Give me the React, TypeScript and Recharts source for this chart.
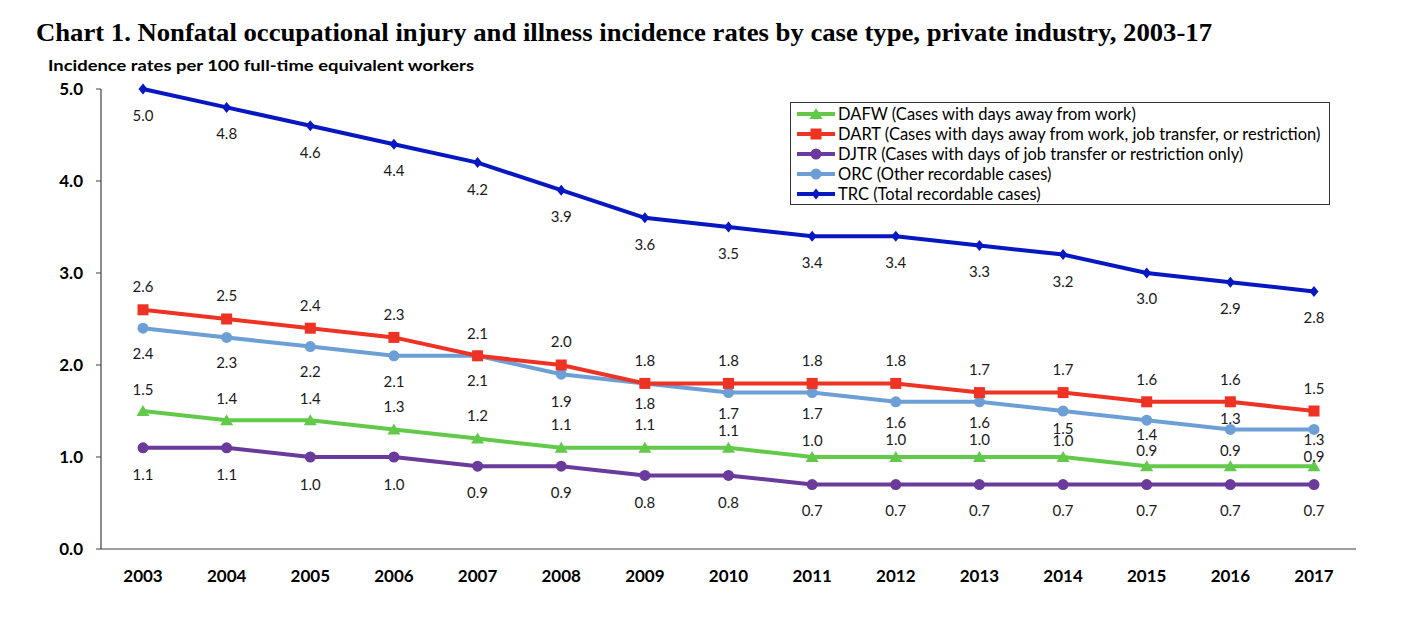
import React from 'react';
import { LineChart, Line, XAxis, YAxis } from 'recharts';

const years = ['2003','2004','2005','2006','2007','2008','2009','2010','2011','2012','2013','2014','2015','2016','2017'];
const dafw = [1.5,1.4,1.4,1.3,1.2,1.1,1.1,1.1,1.0,1.0,1.0,1.0,0.9,0.9,0.9];
const dart = [2.6,2.5,2.4,2.3,2.1,2.0,1.8,1.8,1.8,1.8,1.7,1.7,1.6,1.6,1.5];
const djtr = [1.1,1.1,1.0,1.0,0.9,0.9,0.8,0.8,0.7,0.7,0.7,0.7,0.7,0.7,0.7];
const orc = [2.4,2.3,2.2,2.1,2.1,1.9,1.8,1.7,1.7,1.6,1.6,1.5,1.4,1.3,1.3];
const trc = [5.0,4.8,4.6,4.4,4.2,3.9,3.6,3.5,3.4,3.4,3.3,3.2,3.0,2.9,2.8];
const yTicks = [0,1,2,3,4,5];

const seriesNames = {
  DAFW: 'DAFW (Cases with days away from work)',
  DART: 'DART (Cases with days away from work, job transfer, or restriction)',
  DJTR: 'DJTR (Cases with days of job transfer or restriction only)',
  ORC: 'ORC (Other recordable cases)',
  TRC: 'TRC (Total recordable cases)',
};

// label vertical offsets (px) relative to each point
const offTRC = [26,26,26,26,26,26,26,26,26,26,26,26,25,26,26];
const offDART = [-24,-24,-23,-23,-23,-24,-23,-23,-23,-23,-24,-24,-23,-23,-23];
const offORC = [25,25,24,25,24,27,20,20,20,20,20,17,14,-11,10];
const offDAFW = [-22,-22,-22,-23,-24,-24,-24,-18,-17,-18,-18,-17,-16,-16,-10];
const offDJTR = [26,26,27,27,26,26,27,27,25,25,25,25,25,25,25];

const data = years.map((y, i) => ({
  year: y,
  DAFW: dafw[i],
  DART: dart[i],
  DJTR: djtr[i],
  ORC: orc[i],
  TRC: trc[i],
}));

const COLORS = {
  DAFW: '#62C94B',
  DART: '#EE3224',
  DJTR: '#6A3A9C',
  ORC: '#6C9FD6',
  TRC: '#0717C2',
};

const FONT = 'Lato, "Noto Sans", sans-serif';

type Shape = 'triangle' | 'square' | 'circle' | 'diamond';

function marker(shape: Shape, cx: number, cy: number, color: string, key?: any) {
  if (shape === 'triangle') {
    return <path key={key} d={`M${cx},${cy - 6} L${cx + 6.5},${cy + 5} L${cx - 6.5},${cy + 5} Z`} fill={color} />;
  }
  if (shape === 'square') {
    return <rect key={key} x={cx - 5.5} y={cy - 5.5} width={11} height={11} fill={color} />;
  }
  if (shape === 'circle') {
    return <circle key={key} cx={cx} cy={cy} r={5.5} fill={color} />;
  }
  return <path key={key} d={`M${cx},${cy - 5.5} L${cx + 4.5},${cy} L${cx},${cy + 5.5} L${cx - 4.5},${cy} Z`} fill={color} />;
}

const makeDot = (shape: Shape, color: string) => (props: any) => {
  const { cx, cy, index } = props;
  if (cx == null || cy == null) return <g key={`d${index}`} />;
  return marker(shape, cx, cy, color, `d${index}`);
};

const makeLabel = (offsets: number[]) => (props: any) => {
  const { x, y, value, index } = props;
  if (x == null || y == null) return null;
  return (
    <text
      key={`l${index}`}
      x={x}
      y={y + offsets[index]}
      textAnchor="middle"
      dominantBaseline="central"
      fontFamily={FONT}
      fontSize={15}
      fill="#1a1a1a"
    >
      {Number(value).toFixed(1)}
    </text>
  );
};

const legendItems: { key: keyof typeof COLORS; shape: Shape }[] = [
  { key: 'DAFW', shape: 'triangle' },
  { key: 'DART', shape: 'square' },
  { key: 'DJTR', shape: 'circle' },
  { key: 'ORC', shape: 'circle' },
  { key: 'TRC', shape: 'diamond' },
];

export default function App() {
  return (
    <div style={{ position: 'absolute', left: 0, top: 0, width: 1422, height: 630, background: '#fff' }}>
      <LineChart
        width={1422}
        height={630}
        data={data}
        margin={{ top: 89, right: 66, bottom: 51, left: 41 }}
      >
        <XAxis
          dataKey="year"
          padding={{ left: 42, right: 42 }}
          axisLine={{ stroke: '#404040', strokeWidth: 1.2 }}
          tickLine={false}
          tickSize={0}
          tickMargin={21}
          height={30}
          interval={0}
          tick={{ fontFamily: FONT, fontSize: 17, fontWeight: 700, fill: '#000' }}
        />
        <YAxis
          width={60}
          domain={[0, 5]}
          ticks={yTicks}
          interval={0}
          tickFormatter={(v: number) => v.toFixed(1)}
          axisLine={{ stroke: '#404040', strokeWidth: 1.2 }}
          tickLine={{ stroke: '#404040' }}
          tickSize={5}
          tickMargin={13}
          tick={{ fontFamily: FONT, fontSize: 17, fontWeight: 700, fill: '#000' }}
        />
        <Line dataKey="DJTR" stroke={COLORS.DJTR} strokeWidth={4} isAnimationActive={false}
          dot={makeDot('circle', COLORS.DJTR)} activeDot={false} label={makeLabel(offDJTR)} />
        <Line dataKey="DAFW" stroke={COLORS.DAFW} strokeWidth={4} isAnimationActive={false}
          dot={makeDot('triangle', COLORS.DAFW)} activeDot={false} label={makeLabel(offDAFW)} />
        <Line dataKey="ORC" stroke={COLORS.ORC} strokeWidth={4} isAnimationActive={false}
          dot={makeDot('circle', COLORS.ORC)} activeDot={false} label={makeLabel(offORC)} />
        <Line dataKey="DART" stroke={COLORS.DART} strokeWidth={4} isAnimationActive={false}
          dot={makeDot('square', COLORS.DART)} activeDot={false} label={makeLabel(offDART)} />
        <Line dataKey="TRC" stroke={COLORS.TRC} strokeWidth={4} isAnimationActive={false}
          dot={makeDot('diamond', COLORS.TRC)} activeDot={false} label={makeLabel(offTRC)} />
      </LineChart>

      <svg width={1422} height={80} style={{ position: 'absolute', left: 0, top: 0, pointerEvents: 'none' }}>
        <text x={36} y={41} fontFamily='"Liberation Serif", "DejaVu Serif", serif' fontWeight={700} fontSize={26}
          textLength={1176} lengthAdjust="spacingAndGlyphs" fill="#000">
          Chart 1. Nonfatal occupational injury and illness incidence rates by case type, private industry, 2003-17
        </text>
        <text x={48} y={71} fontFamily={FONT} fontWeight={700} fontSize={16} fill="#000"
          textLength={426} lengthAdjust="spacingAndGlyphs">
          Incidence rates per 100 full-time equivalent workers
        </text>
      </svg>

      <div style={{
        position: 'absolute', left: 790, top: 102, width: 538, height: 101,
        border: '1px solid #333', background: '#fff', boxSizing: 'content-box',
      }}>
        {legendItems.map((it, i) => (
          <div key={it.key} style={{ position: 'absolute', left: 0, top: 1 + i * 20, height: 20, display: 'flex', alignItems: 'center' }}>
            <svg width={48} height={20} style={{ display: 'block' }}>
              <line x1={6} y1={10} x2={44} y2={10} stroke={COLORS[it.key]} strokeWidth={4} />
              {marker(it.shape, 25, 10, COLORS[it.key])}
            </svg>
            <span style={{ fontFamily: FONT, fontSize: 16.5, color: '#000', whiteSpace: 'nowrap', marginLeft: -1, lineHeight: '20px' }}>
              {seriesNames[it.key]}
            </span>
          </div>
        ))}
      </div>
    </div>
  );
}
